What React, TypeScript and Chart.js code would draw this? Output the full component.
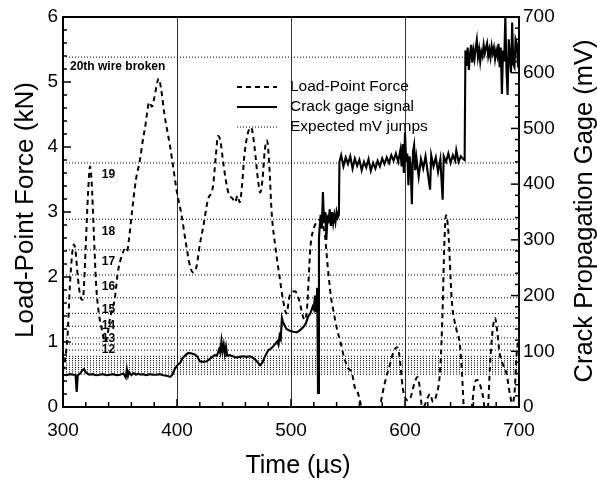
import React, { useEffect, useRef } from "react";
import { Chart, registerables } from "chart.js";

Chart.register(...registerables);

const FONT = '"Liberation Sans", Arial, Helvetica, sans-serif';

// Axis ranges / ticks
const X_MIN = 300;
const X_MAX = 700;
const X_STEP = 100;
const X_MINOR = 20;
const Y_MIN = 0;
const Y_MAX = 6;
const Y_STEP = 1;
const Y_MINOR = 0.2;
const Y2_MIN = 0;
const Y2_MAX = 700;
const Y2_STEP = 100;
const Y2_MINOR = 20;
const gridTimes = [400, 500, 600];

// Series labels
const seriesLabels = ["Load-Point Force", "Crack gage signal", "Expected mV jumps"];

// Load-point force (kN) vs time (µs)
const forceTime = [
  300, 302, 304, 306, 308, 309.6, 311, 313, 315, 316.7,
  318, 320, 322, 323.7, 325, 327, 329, 331, 334, 337,
  339, 341, 345.6, 348, 352, 354, 356, 358, 360.5, 364,
  367.5, 370, 372, 375.7, 378, 380, 384, 386, 389, 394,
  397, 400, 404, 408, 411, 414, 417, 420, 423, 427,
  431.6, 434, 436, 438, 441, 445, 449, 451, 453, 455,
  457, 459, 462, 465, 468, 471, 473, 475, 477, 479,
  481, 483, 486, 490, 493, 496, 499, 503.5, 507, 512,
  514, 517, 520, 523, 525, 528, 530, 532, 535, 537,
  541, 543, 546, 550, 553.5, 556, 558, 561, 564, 570,
  575, 578, 582, 587, 590, 593, 595, 598, 600, 602.6,
  605, 608, 611, 613, 615, 617, 620, 622, 624.5, 627,
  631, 633, 634.5, 636, 638, 641, 645, 648, 650, 651.5,
  654, 657, 659, 661, 663, 665, 668, 671, 673, 674.5,
  677, 679, 681, 683, 686, 689, 692, 694, 696, 698,
  700,
];
const forceKN = [
  0.55, 0.75, 1.1, 1.85, 2.35, 2.5, 2.4, 2.0, 1.72, 1.65,
  1.75, 2.5, 3.3, 3.7, 3.5, 2.7, 1.9, 1.5, 1.2, 1.0,
  1.1, 1.34, 1.69, 2.06, 2.35, 2.42, 2.38, 2.6, 3.0, 3.5,
  3.8, 4.1, 4.3, 4.69, 4.62, 4.75, 5.05, 4.9, 4.5, 4.0,
  3.65, 3.3, 2.95, 2.5, 2.2, 2.07, 2.15, 2.5, 2.77, 3.18,
  3.4, 3.85, 4.17, 4.1, 3.7, 3.3, 3.2, 3.15, 3.25, 3.15,
  3.4, 3.85, 4.2, 4.3, 4.0, 3.5, 3.3, 3.5, 3.95, 4.1,
  3.7, 3.0, 2.5, 2.0, 1.65, 1.44, 1.72, 1.78, 1.65, 1.34,
  1.5, 2.45, 2.75, 2.85, 2.88, 2.8, 2.6, 2.2, 1.7, 1.5,
  1.15, 1.03, 0.8, 0.6, 0.52, 0.3, 0.25, 0.05, -0.3, -0.5,
  -0.3, 0.0, 0.35, 0.67, 0.85, 0.92, 0.8, 0.3, 0.15, 0.1,
  0.15, 0.35, 0.46, 0.3, 0.0, 0.02, 0.15, 0.2, 0.08, 0.15,
  0.62, 1.5, 2.5, 2.95, 2.7, 1.65, 1.2, 0.98, 0.52, 0.0,
  -0.5, -0.2, 0.06, 0.35, 0.42, 0.38, 0.2, -0.1, 0.05, 0.62,
  1.2, 1.37, 1.15, 0.83, 0.65, 0.52, 0.2, 0.06, 0.2, 0.83,
  1.05,
];

// Crack gage signal (mV) vs time (µs)
const gageTime = [
  300, 303, 306, 309, 311, 312, 313, 315, 317, 318.5,
  320, 323, 326, 329, 332, 335, 338, 341, 344, 347,
  350, 353, 355, 356, 357, 358, 360, 362, 364, 366,
  368, 370, 373, 376, 379, 382, 385, 388, 391, 394,
  396, 398, 400, 403, 405, 408, 410, 413, 416, 418,
  420, 423, 426, 428, 431, 433, 435, 437, 438, 439,
  440, 441, 442, 443, 444, 446, 449, 452, 455, 458,
  461, 464, 467, 470, 472, 473, 475, 477, 479, 480,
  482, 484, 486, 488, 489, 490,
  491, 492, 493, 494, 496, 499, 502, 505, 508, 511,
  513, 515, 517, 519, 520, 521, 522, 523, 523.7, 524.5,
  525, 526, 527, 528, 529, 530, 531, 532, 533, 534,
  535, 536, 537, 538, 539, 540, 541, 542,
  542.5, 544, 546, 548, 550, 552, 554, 556, 558, 560,
  562, 564, 566, 568, 570, 572, 574, 576, 578, 580,
  582, 584, 586, 588, 590, 592, 594, 596, 597, 598,
  599, 600, 601, 602, 603, 604, 605, 606, 607, 608,
  609, 610, 612, 614, 616, 618, 620, 622, 623, 625,
  627, 629, 631, 633, 634, 636, 638, 640, 642, 644,
  645, 647, 649, 651, 652.3,
  653, 654, 655, 656, 657, 658, 659, 660, 661, 662,
  663, 664, 665, 666, 667, 668, 669, 670, 671, 672,
  673, 674, 675, 676, 677, 678, 679, 680, 681, 682,
  683, 684, 685, 686, 687, 688, 689, 690, 691, 692,
  693, 694, 695, 696, 697, 698, 699, 700,
];
const gageMV = [
  58, 57, 59, 58, 58, 27, 57, 60, 66, 68,
  62, 58, 59, 57, 58, 59, 57, 58, 59, 57,
  58, 60, 53, 68, 56, 63, 57, 61, 58, 60,
  58, 59, 57, 59, 58, 58, 59, 57, 56, 54,
  58, 68, 74, 80, 88, 94, 97, 96, 94, 90,
  82, 81, 82, 85, 90, 93, 92, 104, 97, 118,
  100, 112, 95, 108, 92, 93, 91, 89, 90, 91,
  90, 91, 88, 82, 77, 75, 80, 90, 98, 102,
  104, 108, 113, 118, 112, 128,
  122, 160, 152, 148, 140, 137, 135, 134, 138, 144,
  150, 162, 168, 180, 175, 200, 170, 214, 25, 300,
  320, 345, 320, 386, 330, 350, 300, 340, 335, 355,
  325, 350, 330, 345, 332, 350, 340, 345,
  440, 452, 432, 448, 436, 450, 428, 446, 433, 444,
  425, 440, 430, 445, 424, 438, 428, 442, 432, 446,
  436, 448, 438, 452, 442, 455, 440, 462, 432, 472,
  420, 494, 440, 455, 398, 450, 430, 364, 458, 470,
  425, 448, 413, 445, 428, 450, 420, 390, 452, 432,
  448, 422, 445, 372, 450, 440, 455, 438, 452, 442,
  461, 440, 450, 445, 443,
  640, 612, 645, 605, 632, 650, 618, 640, 625, 645,
  659, 628, 642, 620, 638, 630, 650, 635, 645, 653,
  630, 642, 628, 648, 635, 645, 625, 640, 630, 652,
  610, 645, 562, 640, 620, 700, 605, 560, 660, 630,
  600, 690, 615, 610, 660, 653, 618, 625,
];

// Expected mV level after each wire breaks (wires 1..20)
const wireLevelsMV = [
  59, 63, 67, 71, 75, 79, 83, 87, 91, 102,
  113, 124, 145, 168, 196, 237, 282, 337, 438, 628,
];
const labeledWires = [12, 13, 14, 15, 16, 17, 18, 19];
const wireLabelTime = 334;
const topWireNote = "20th wire broken";

const axisTitles = {
  left: "Load-Point Force (kN)",
  right: "Crack Propagation Gage (mV)",
  bottom: "Time (µs)",
};

const overlayPlugin = {
  id: "overlay",
  afterDraw(chart: any) {
    const { ctx, chartArea: a, scales } = chart;
    const xs = scales.x;
    const ys = scales.y;
    const y2s = scales.y2;
    ctx.save();
    ctx.strokeStyle = "#000";
    ctx.fillStyle = "#000";

    // top frame line
    ctx.lineWidth = 2;
    ctx.beginPath();
    ctx.moveTo(a.left - 1, a.top);
    ctx.lineTo(a.right + 1, a.top);
    ctx.stroke();

    const line = (x1: number, y1: number, x2: number, y2: number) => {
      ctx.beginPath();
      ctx.moveTo(x1, y1);
      ctx.lineTo(x2, y2);
      ctx.stroke();
    };

    // inward ticks
    ctx.lineWidth = 1.5;
    const nx = Math.round((X_MAX - X_MIN) / X_MINOR);
    for (let i = 0; i <= nx; i++) {
      const v = X_MIN + i * X_MINOR;
      const px = xs.getPixelForValue(v);
      const major = Math.abs(v % X_STEP) < 1e-6;
      line(px, a.bottom, px, a.bottom - (major ? 8 : 5));
    }
    const ny = Math.round((Y_MAX - Y_MIN) / Y_MINOR);
    for (let i = 0; i <= ny; i++) {
      const v = Y_MIN + i * Y_MINOR;
      const py = ys.getPixelForValue(v);
      const major = i % Math.round(Y_STEP / Y_MINOR) === 0;
      line(a.left, py, a.left + (major ? 8 : 4), py);
    }
    const ny2 = Math.round((Y2_MAX - Y2_MIN) / Y2_MINOR);
    for (let i = 0; i <= ny2; i++) {
      const v = Y2_MIN + i * Y2_MINOR;
      const py = y2s.getPixelForValue(v);
      const major = i % Math.round(Y2_STEP / Y2_MINOR) === 0;
      line(a.right, py, a.right - (major ? 8 : 4), py);
    }

    // wire annotations
    ctx.textBaseline = "middle";
    ctx.textAlign = "left";
    ctx.font = `bold 12px ${FONT}`;
    ctx.fillText(topWireNote, a.left + 7, y2s.getPixelForValue(wireLevelsMV[19]) + 10);
    labeledWires.forEach((n) => {
      const py = y2s.getPixelForValue(wireLevelsMV[n - 1]) + 12;
      ctx.fillText(String(n), xs.getPixelForValue(wireLabelTime), py);
    });

    // legend
    const lx0 = 237;
    const lx1 = 277;
    const ly0 = 87;
    const ldy = 20;
    ctx.font = `15.5px ${FONT}`;
    chart.data.datasets.forEach((ds: any, i: number) => {
      const yy = ly0 + i * ldy;
      ctx.save();
      ctx.lineWidth = ds.borderWidth;
      ctx.setLineDash(ds.borderDash || []);
      line(lx0, yy, lx1, yy);
      ctx.restore();
      ctx.fillText(ds.label, 290, yy);
    });

    // axis titles
    ctx.textAlign = "center";
    ctx.textBaseline = "alphabetic";
    ctx.font = `26px ${FONT}`;
    ctx.save();
    ctx.translate(33, 210);
    ctx.rotate(-Math.PI / 2);
    ctx.fillText(axisTitles.left, 0, 0);
    ctx.restore();

    ctx.font = `25.5px ${FONT}`;
    ctx.save();
    ctx.translate(592, 211);
    ctx.rotate(-Math.PI / 2);
    ctx.fillText(axisTitles.right, 0, 0);
    ctx.restore();

    ctx.font = `25px ${FONT}`;
    ctx.fillText(axisTitles.bottom, 298, 473);

    ctx.restore();
  },
};

export default function App() {
  const ref = useRef<HTMLCanvasElement | null>(null);

  useEffect(() => {
    if (!ref.current) return;
    Chart.defaults.font.family = FONT;
    Chart.defaults.color = "#000";

    const forceData = forceTime.map((t, i) => ({ x: t, y: forceKN[i] }));
    const gageData = gageTime.map((t, i) => ({ x: t, y: gageMV[i] }));
    const expectedData: { x: number; y: number | null }[] = [];
    wireLevelsMV.forEach((v) => {
      expectedData.push({ x: X_MIN, y: v }, { x: X_MAX, y: v }, { x: X_MAX, y: null });
    });

    const chart = new Chart(ref.current, {
      type: "line",
      data: {
        datasets: [
          {
            label: seriesLabels[0],
            data: forceData,
            yAxisID: "y",
            borderColor: "#000",
            borderWidth: 2,
            borderDash: [5, 4],
            pointRadius: 0,
            cubicInterpolationMode: "monotone",
            fill: false,
          },
          {
            label: seriesLabels[1],
            data: gageData,
            yAxisID: "y2",
            borderColor: "#000",
            borderWidth: 2.1,
            pointRadius: 0,
            tension: 0,
            fill: false,
          },
          {
            label: seriesLabels[2],
            data: expectedData,
            yAxisID: "y2",
            borderColor: "#000",
            borderWidth: 1,
            borderDash: [1, 2],
            pointRadius: 0,
            spanGaps: false,
            tension: 0,
            fill: false,
          },
        ],
      },
      options: {
        responsive: false,
        maintainAspectRatio: false,
        animation: false,
        events: [],
        layout: { padding: { top: 17, left: 0, right: 0, bottom: 0 }, autoPadding: false },
        plugins: { legend: { display: false }, tooltip: { enabled: false } },
        scales: {
          x: {
            type: "linear",
            position: "bottom",
            min: X_MIN,
            max: X_MAX,
            ticks: {
              stepSize: X_STEP,
              autoSkip: false,
              maxRotation: 0,
              padding: 12,
              color: "#000",
              font: { size: 19, family: FONT },
            },
            grid: {
              drawTicks: false,
              lineWidth: 1,
              color: (c: any) =>
                c.tick && gridTimes.includes(c.tick.value) ? "#333" : "rgba(0,0,0,0)",
            },
            border: { display: true, width: 2, color: "#000" },
            title: { display: false },
            afterFit: (s: any) => {
              s.height = 73;
            },
          },
          y: {
            type: "linear",
            position: "left",
            min: Y_MIN,
            max: Y_MAX,
            ticks: {
              stepSize: Y_STEP,
              padding: 5,
              color: "#000",
              font: { size: 19, family: FONT },
            },
            grid: { display: false, drawTicks: false },
            border: { display: true, width: 2, color: "#000" },
            afterFit: (s: any) => {
              s.width = 63;
            },
          },
          y2: {
            type: "linear",
            position: "right",
            min: Y2_MIN,
            max: Y2_MAX,
            ticks: {
              stepSize: Y2_STEP,
              padding: 4,
              color: "#000",
              font: { size: 19, family: FONT },
            },
            grid: { display: false, drawTicks: false },
            border: { display: true, width: 2, color: "#000" },
            afterFit: (s: any) => {
              s.width = 78;
            },
          },
        },
      },
      plugins: [overlayPlugin],
    } as any);

    return () => chart.destroy();
  }, []);

  return (
    <div style={{ position: "fixed", left: 0, top: 0, width: 597, height: 480, background: "#fff" }}>
      <canvas ref={ref} width={597} height={480} style={{ display: "block" }} />
    </div>
  );
}
